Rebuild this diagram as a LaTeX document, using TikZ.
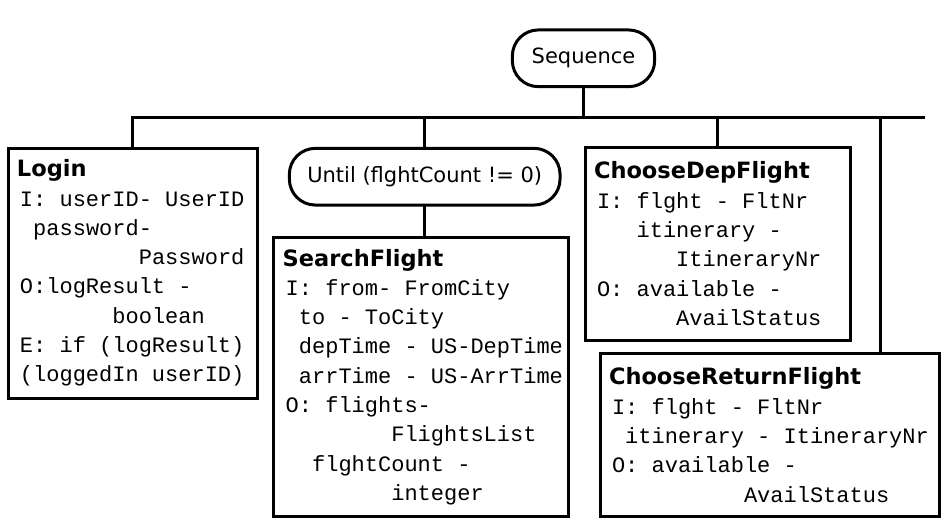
\documentclass[tikz,border=0pt]{standalone}
\usepackage{fontspec}
\setmainfont{DejaVu Sans}
\setmonofont{Liberation Mono}
\newcommand{\ind}[1]{\spaceskip=\fontdimen2\font\relax\xspaceskip=\spaceskip
  \hspace*{\dimexpr 12pt+#1\fontdimen2\font\relax}}
\newcommand{\ttl}[1]{\hspace*{9pt}{\rmfamily\bfseries\fontsize{22.5}{29.3}\selectfont #1}}
\begin{document}
\begin{tikzpicture}[x=1pt,y=-1pt,line width=3pt,
  act/.style={draw, rectangle, anchor=north west, inner sep=0pt, outer sep=0pt,
    align=left, font=\ttfamily\fontsize{22}{29.3}\selectfont},
  ctl/.style={draw, rectangle, rounded corners=26pt, inner sep=0pt, outer sep=0pt,
    minimum height=56.7pt, font=\fontsize{21}{25}\selectfont}]
      \useasboundingbox (0,0) rectangle (948,528);
      \node[ctl, minimum width=142.3pt] (seq) at (583.5,58.3) {Sequence};
      \node[ctl, minimum width=270.7pt] (until) at (424.7,176.7) {Until (flghtCount != 0)};
      \node[act, text width=249.5pt, minimum height=250pt] (login) at (8,148)
        {\ttl{Login}\\
         \ind{0}I: userID- UserID\\
         \ind{1}password-\\
         \ind{9}Password\\
         \ind{0}O:logResult -\\
         \ind{7}boolean\\
         \ind{0}E: if (logResult)\\
         \ind{0}(loggedIn userID)};
      \node[act, text width=294.6pt, minimum height=279.4pt] (search) at (273.7,237.3)
        {\ttl{SearchFlight}\\
         \ind{0}I: from- FromCity\\
         \ind{1}to - ToCity\\
         \ind{1}depTime - US-DepTime\\
         \ind{1}arrTime - US-ArrTime\\
         \ind{0}O: flights-\\
         \ind{8}FlightsList\\
         \ind{2}flghtCount -\\
         \ind{8}integer};
      \node[act, text width=265.7pt, minimum height=192.7pt] (chdep) at (585,147.3)
        {\ttl{ChooseDepFlight}\\
         \ind{0}I: flght - FltNr\\
         \ind{3}itinerary -\\
         \ind{6}ItineraryNr\\
         \ind{0}O: available -\\
         \ind{6}AvailStatus};
      \node[act, text width=339pt, minimum height=163.4pt] (chret) at (600,353.3)
        {\ttl{ChooseReturnFlight}\\
         \ind{0}I: flght - FltNr\\
         \ind{1}itinerary - ItineraryNr\\
         \ind{0}O: available -\\
         \ind{10}AvailStatus};
      \coordinate (barend) at (925,117);
      \coordinate (rettap) at (880.3,117);
      \begin{scope}[-]
        \draw (login.north) |- (barend);
        \draw (seq.south) -- (seq.south |- barend);
        \draw (until.north) -- (until.north |- barend);
        \draw (until.south) -- (until.south |- search.north);
        \draw (chdep.north) -- (chdep.north |- barend);
        \draw (rettap) -- (rettap |- chret.north);
      \end{scope}
    \end{tikzpicture}
\end{document}
